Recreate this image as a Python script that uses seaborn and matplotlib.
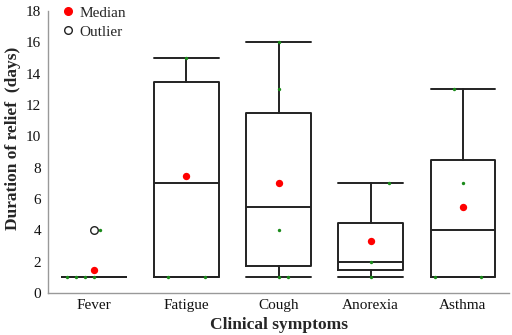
import matplotlib
matplotlib.use("Agg")
import matplotlib.pyplot as plt
import seaborn as sns
import pandas as pd
from matplotlib.lines import Line2D

sns.set_style("white")
plt.rcParams['font.family'] = ['Liberation Serif', 'DejaVu Serif']

categories = ["Fever", "Fatigue", "Cough", "Anorexia", "Asthma"]
whisker_low = [1, 1, 1, 1, 1]
q1 = [1, 1, 1.75, 1.5, 1]
median = [1, 7, 5.5, 2, 4]
q3 = [1, 13.5, 11.5, 4.5, 8.5]
whisker_high = [1, 15, 16, 7, 13]
red_dot = [1.5, 7.5, 7.0, 3.3, 5.5]
outlier_cat = ["Fever"]
outlier_val = [4]

# raw observations (green points) with small horizontal offsets
pt_cat = ["Fever"] * 5 + ["Fatigue"] * 3 + ["Cough"] * 5 + ["Anorexia"] * 3 + ["Asthma"] * 4
pt_val = [1, 1, 1, 1, 4,
          1, 1, 15,
          16, 13, 4, 1, 1,
          7, 2, 1,
          13, 7, 1, 1]
pt_offset = [-0.3, -0.2, -0.1, 0.0, 0.065,
             -0.2, 0.2, 0.0,
             0.0, 0.0, 0.0, 0.0, 0.1,
             0.2, 0.0, 0.0,
             -0.1, 0.0, -0.3, 0.2]

fig = plt.figure(figsize=(5.12, 3.35), dpi=100)
ax = fig.add_axes([0.094, 0.125, 0.9, 0.842])

stats = []
for i, c in enumerate(categories):
    stats.append(dict(med=median[i], q1=q1[i], q3=q3[i],
                      whislo=whisker_low[i], whishi=whisker_high[i], fliers=[], label=c))
lc = "#222222"
ax.bxp(stats, positions=range(len(categories)), widths=0.7, showfliers=False,
       boxprops=dict(color=lc, linewidth=1.4),
       medianprops=dict(color=lc, linewidth=1.4),
       whiskerprops=dict(color=lc, linewidth=1.4),
       capprops=dict(color=lc, linewidth=1.4),
       capwidths=0.7)

pos = {c: i for i, c in enumerate(categories)}
pts = pd.DataFrame({"x": [pos[c] + o for c, o in zip(pt_cat, pt_offset)], "y": pt_val})
sns.scatterplot(data=pts, x="x", y="y", ax=ax, color="#1a8a1a", s=6, linewidth=0, zorder=4)

reds = pd.DataFrame({"x": [pos[c] for c in categories], "y": red_dot})
sns.scatterplot(data=reds, x="x", y="y", ax=ax, color="#ff0000", s=28, linewidth=0, zorder=5)

outs = pd.DataFrame({"x": [pos[c] for c in outlier_cat], "y": outlier_val})
sns.scatterplot(data=outs, x="x", y="y", ax=ax, facecolor="white", edgecolor="#222222",
                s=30, linewidth=1.0, zorder=3)

ax.set_xlim(-0.5, len(categories) - 0.5)
ax.set_ylim(0, 18)
ax.set_yticks(range(0, 19, 2))
ax.set_xticks(range(len(categories)))
ax.set_xticklabels(categories, fontsize=11)
ax.set_xticks([i + 0.5 for i in range(len(categories))], minor=True)
ax.tick_params(axis="x", which="major", length=0, pad=4)
ax.tick_params(axis="x", which="minor", length=3, color="#999999", direction="out")
ax.tick_params(axis="y", length=3, color="#999999", direction="out", labelsize=11, pad=2)
ax.tick_params(axis="both", labelcolor="#111111")

for s in ["top", "right"]:
    ax.spines[s].set_visible(False)
for s in ["left", "bottom"]:
    ax.spines[s].set_color("#999999")
    ax.spines[s].set_linewidth(1.0)

ax.set_xlabel("Clinical symptoms", fontsize=12.5, fontweight="bold", labelpad=4)
ax.set_ylabel("Duration of relief  (days)", fontsize=12.5, fontweight="bold")
ax.yaxis.set_label_coords(-0.058, 0.55)

handles = [Line2D([], [], marker="o", linestyle="", color="#ff0000", markersize=5.5),
           Line2D([], [], marker="o", linestyle="", markerfacecolor="white",
                  markeredgecolor="#222222", markersize=5.5, markeredgewidth=1.0)]
ax.legend(handles, ["Median", "Outlier"], loc="upper left", bbox_to_anchor=(0.015, 1.04),
          frameon=False, fontsize=11, handlelength=0.9, handletextpad=0.3,
          labelspacing=0.35, borderaxespad=0)

fig.savefig("out.png", dpi=100)
